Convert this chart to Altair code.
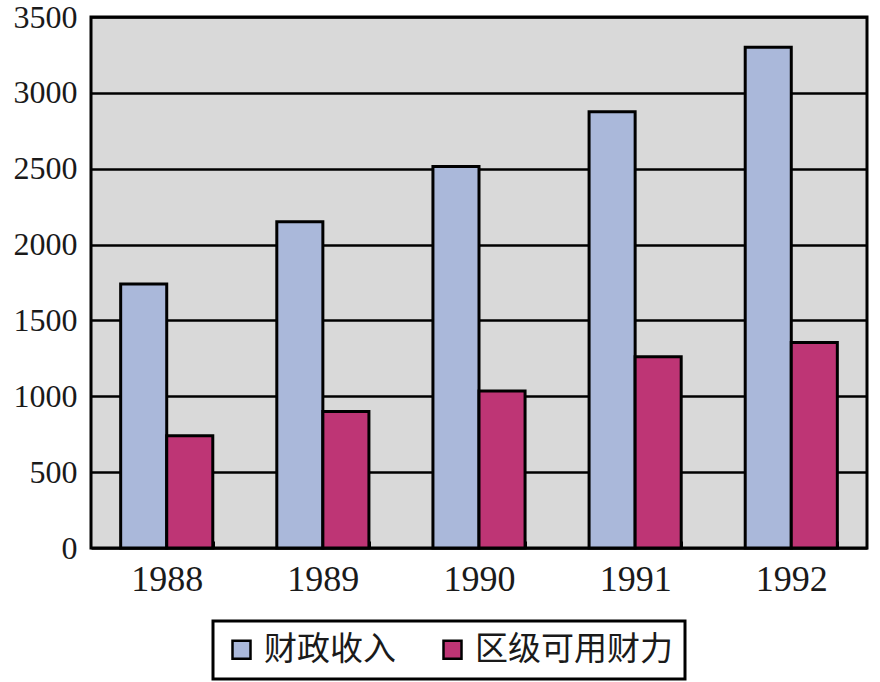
import altair as alt
import pandas as pd

years = ["1988", "1989", "1990", "1991", "1992"]
revenue = [1740, 2150, 2515, 2875, 3300]
district = [740, 900, 1035, 1260, 1355]
series = ["财政收入", "区级可用财力"]
colors = ["#AAB8DA", "#BE3575"]
y_ticks = [0, 500, 1000, 1500, 2000, 2500, 3000, 3500]

rows = []
for i, yr in enumerate(years):
    rows.append({"year": yr, "series": series[0], "value": revenue[i]})
    rows.append({"year": yr, "series": series[1], "value": district[i]})
df = pd.DataFrame(rows)

num_font = "Liberation Serif"
cjk_font = "Noto Sans CJK SC"

chart = alt.Chart(df).mark_bar(stroke="black", strokeWidth=3).encode(
    x=alt.X(
        "year:N", sort=years,
        scale=alt.Scale(paddingInner=0.41, paddingOuter=0.19),
        axis=alt.Axis(
            title=None, labelAngle=0, domain=False, offset=-7,
            tickBand="extent", tickSize=7, tickWidth=3, tickColor="black",
            labelPadding=14, labelFont=num_font, labelFontSize=36,
            labelColor="#1a1a1a",
        ),
    ),
    xOffset=alt.XOffset("series:N", sort=series),
    y=alt.Y(
        "value:Q",
        scale=alt.Scale(domain=[0, 3500], nice=False),
        axis=alt.Axis(
            title=None, values=y_ticks, format="d", grid=True, gridColor="black",
            gridWidth=2.5, ticks=False, domain=False, labelPadding=14,
            labelFont=num_font, labelFontSize=32, labelColor="#1a1a1a",
        ),
    ),
    color=alt.Color(
        "series:N", sort=series,
        scale=alt.Scale(domain=series, range=colors),
        legend=alt.Legend(
            title=None, orient="none", legendX=122, legendY=604,
            direction="horizontal", symbolType="square", symbolSize=324,
            symbolStrokeColor="black", symbolStrokeWidth=2.5,
            labelFont=cjk_font, labelFontSize=33, labelColor="#1a1a1a",
            labelLimit=0, labelOffset=6, columnPadding=40, padding=12,
            fillColor="white", strokeColor="black",
        ),
    ),
).properties(
    width=776, height=531, background="white",
    padding={"left": 91, "top": 17, "right": 13, "bottom": 134},
    autosize="none",
).configure_view(
    fill="#D9D9D9", stroke="black", strokeWidth=3
).configure_legend(strokeWidth=3)

chart.save("out.html", embed_options={"renderer": "svg", "actions": False})
